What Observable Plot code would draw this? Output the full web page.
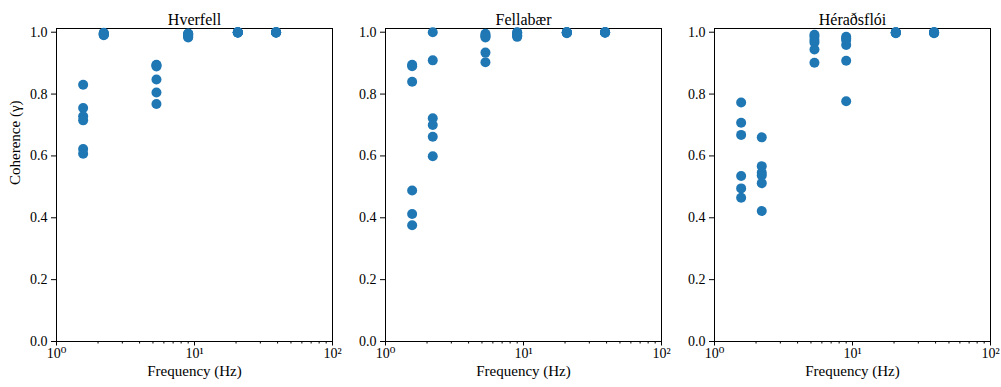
<!DOCTYPE html>
<html><head><meta charset="utf-8">
<script src="https://cdn.jsdelivr.net/npm/d3@7"></script>
<script src="https://cdn.jsdelivr.net/npm/@observablehq/plot@0.6"></script>
<style>
body{margin:0;background:#fff;}
#wrap{position:relative;width:1001px;height:387px;overflow:hidden;}
#wrap svg{position:absolute;top:0;}
</style></head><body><div id="wrap"></div>
<script>
// Frequencies (Hz) of the measurement bands
const freqs = [1.56, 2.2, 5.3, 9.0, 20.6, 39.0];
const sites = ["Hverfell", "Fellabær", "Héraðsflói"];
// Coherence values, one list per frequency band
const hverfell = [
  [0.83, 0.755, 0.728, 0.715, 0.622, 0.607],
  [0.998, 0.995, 0.992, 0.99, 0.996, 0.993],
  [0.895, 0.893, 0.889, 0.847, 0.805, 0.768],
  [0.996, 0.993, 0.99, 0.985, 0.983, 0.995],
  [1.0, 0.999, 0.999, 1.0, 0.998, 1.0],
  [1.0, 0.999, 1.0, 0.999, 1.0, 0.998]
];
const fellabaer = [
  [0.895, 0.89, 0.84, 0.488, 0.412, 0.376],
  [1.0, 0.909, 0.722, 0.70, 0.662, 0.599],
  [0.995, 0.99, 0.983, 0.934, 0.903, 0.987],
  [1.0, 0.995, 0.985, 0.99, 0.998, 0.988],
  [1.0, 0.998, 0.999, 1.0, 0.997, 1.0],
  [1.0, 0.999, 1.0, 0.998, 1.0, 0.999]
];
const heradsfloi = [
  [0.773, 0.707, 0.668, 0.535, 0.495, 0.465],
  [0.66, 0.567, 0.546, 0.537, 0.512, 0.422],
  [0.992, 0.985, 0.975, 0.967, 0.944, 0.901],
  [0.985, 0.98, 0.959, 0.908, 0.777, 0.975],
  [1.0, 0.998, 0.997, 1.0, 0.999, 0.998],
  [1.0, 0.998, 0.999, 1.0, 0.997, 0.998]
];
const siteValues = [hverfell, fellabaer, heradsfloi];
const yTicks = [0, 0.2, 0.4, 0.6, 0.8, 1.0];
const xMajor = [1, 10, 100];
const xMajorLabels = ["10⁰", "10¹", "10²"];
const xMinor = [2,3,4,5,6,7,8,9,20,30,40,50,60,70,80,90];

const wrap = document.getElementById("wrap");
const lefts = [6, 335, 664];
const font = "'Liberation Serif', 'DejaVu Serif', serif";

siteValues.forEach((vals, i) => {
  const data = [];
  vals.forEach((arr, j) => arr.forEach(v => data.push({f: freqs[j], c: v})));
  const marks = [
    Plot.frame({stroke: "#000", strokeWidth: 1}),
    Plot.axisX({ticks: xMajor, tickFormat: d => xMajorLabels[xMajor.indexOf(d)], tickSize: 4.5, tickPadding: 2, label: null, fontSize: 14}),
    Plot.axisX({ticks: xMinor, tickFormat: () => "", tickSize: 2.5, label: null}),
    Plot.axisY({ticks: yTicks, tickFormat: d3.format(".1f"), tickSize: 5, tickPadding: 4, label: null, fontSize: 14}),
    Plot.dot(data, {x: "f", y: "c", r: 5, fill: "#1f77b4", stroke: null}),
    Plot.text([sites[i]], {frameAnchor: "top", dy: -15, fontSize: 16}),
    Plot.text(["Frequency (Hz)"], {frameAnchor: "bottom", dy: 34, fontSize: 15})
  ];
  if (i === 0) marks.push(Plot.text(["Coherence (γ)"], {frameAnchor: "left", rotate: -90, dx: -41, fontSize: 15}));
  const p = Plot.plot({
    width: 337, height: 387,
    marginLeft: 50, marginRight: 11, marginTop: 28, marginBottom: 46,
    x: {type: "log", domain: [1, 100]},
    y: {domain: [0, 1.012]},
    style: {fontFamily: font, fontSize: "14px", background: "transparent", color: "#000"},
    marks
  });
  p.style.left = lefts[i] + "px";
  wrap.appendChild(p);
});
</script></body></html>
